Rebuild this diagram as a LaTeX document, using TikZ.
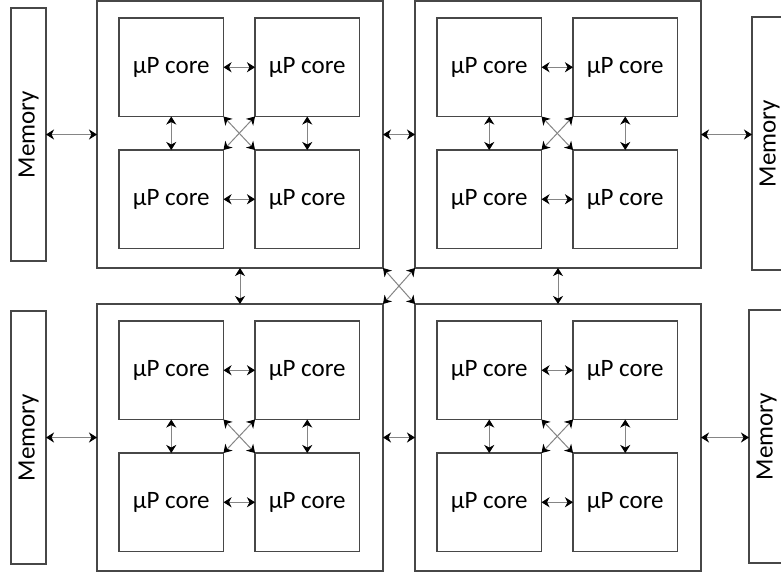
\documentclass[tikz,border=0pt]{standalone}
\usepackage{fontspec}
\setmainfont{Carlito}
\usetikzlibrary{arrows.meta,calc}

\tikzset{
  boxline/.style={draw=black!72, line width=1.3pt, outer sep=0pt, inner sep=0pt},
  chipbox/.style={boxline, minimum width=286pt, minimum height=267pt, anchor=north west},
  corebox/.style={boxline, minimum width=104.5pt, minimum height=98.5pt, anchor=north west,
    font=\fontsize{25}{30}\selectfont},
  membox/.style={boxline, minimum width=35pt, minimum height=253pt, anchor=north west},
  memlabel/.style={rotate=90, inner sep=0pt, font=\fontsize{25}{30}\selectfont},
  link/.style={draw=black!48, line width=1pt,
    {Stealth[length=8pt,width=10pt,inset=2.5pt,color=black]}-{Stealth[length=8pt,width=10pt,inset=2.5pt,color=black]}},
}

% one chip: outer frame, four cores and their interconnect
\newcommand{\chipblock}[3]{%
  \node[chipbox] (#1) at (#2,#3) {};
  \node[corebox] (#1a) at ($(#2,#3)+(22,17)$) {µP core};
  \node[corebox] (#1b) at ($(#2,#3)+(158,17)$) {µP core};
  \node[corebox] (#1c) at ($(#2,#3)+(22,149)$) {µP core};
  \node[corebox] (#1d) at ($(#2,#3)+(158,149)$) {µP core};
  \draw[link] (#1a.east) -- (#1b.west);
  \draw[link] (#1c.east) -- (#1d.west);
  \draw[link] (#1a.south) -- (#1c.north);
  \draw[link] (#1b.south) -- (#1d.north);
  \draw[link] (#1a.south east) -- (#1d.north west);
  \draw[link] (#1b.south west) -- (#1c.north east);
}

\begin{document}
\begin{tikzpicture}[x=1pt, y=-1pt]
  \useasboundingbox (0,0) rectangle (781,574);
  \clip (0,0) rectangle (781,574);

  \chipblock{tl}{97}{1}
  \chipblock{tr}{415}{1}
  \chipblock{bl}{97}{304}
  \chipblock{br}{415}{304}

  % memories
  \node[membox] (mtl) at (11,8) {};
  \node[membox] (mbl) at (11,311) {};
  \node[membox] (mtr) at (752,17) {};
  \node[membox] (mbr) at (749,310) {};
  \foreach \m in {mtl,mbl,mtr,mbr}
    \node[memlabel] at (\m.center) {Memory};

  % memory links
  \draw[link] (tl.west -| mtl.east) -- (tl.west);
  \draw[link] (bl.west -| mbl.east) -- (bl.west);
  \draw[link] (tr.east) -- (tr.east -| mtr.west);
  \draw[link] (br.east) -- (br.east -| mbr.west);

  % chip-to-chip links
  \draw[link] (tl.east) -- (tr.west);
  \draw[link] (bl.east) -- (br.west);
  \draw[link] (tl.south) -- (bl.north);
  \draw[link] (tr.south) -- (br.north);
  \draw[link] (tl.south east) -- (br.north west);
  \draw[link] (tr.south west) -- (bl.north east);
\end{tikzpicture}
\end{document}
